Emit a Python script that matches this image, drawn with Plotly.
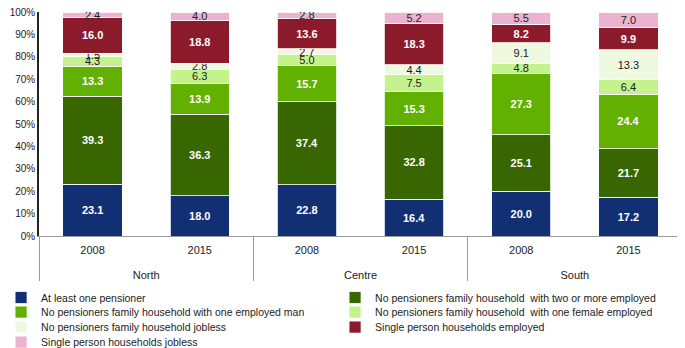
import plotly.graph_objects as go

regions = ["North", "North", "Centre", "Centre", "South", "South"]
years = ["2008", "2015", "2008", "2015", "2008", "2015"]

series_names = [
    "At least one pensioner",
    "No pensioners family household  with two or more employed",
    "No pensioners family household with one employed man",
    "No pensioners family household  with one female employed",
    "No pensioners family household jobless",
    "Single person households employed",
    "Single person households jobless",
]

at_least_one_pensioner = [23.1, 18.0, 22.8, 16.4, 20.0, 17.2]
two_or_more_employed = [39.3, 36.3, 37.4, 32.8, 25.1, 21.7]
one_employed_man = [13.3, 13.9, 15.7, 15.3, 27.3, 24.4]
one_female_employed = [4.3, 6.3, 5.0, 7.5, 4.8, 6.4]
family_jobless = [1.5, 2.8, 2.7, 4.4, 9.1, 13.3]
single_employed = [16.0, 18.8, 13.6, 18.3, 8.2, 9.9]
single_jobless = [2.4, 4.0, 2.8, 5.2, 5.5, 7.0]

series_values = [
    at_least_one_pensioner,
    two_or_more_employed,
    one_employed_man,
    one_female_employed,
    family_jobless,
    single_employed,
    single_jobless,
]

colors = ["#122F74", "#386600", "#62B000", "#C4F38D", "#EEF9E0", "#8B1A2B", "#EBB3CF"]
text_colors = ["white", "white", "white", "#222222", "#222222", "white", "#222222"]
text_weights = ["bold", "bold", "bold", "normal", "normal", "bold", "normal"]

FONT = "Liberation Sans"

# region labels pushed one line lower on the axis (display only)
region_labels = ["<br>" + r for r in regions]

# legend rows (two entries per row), one legend per row for tighter spacing
legend_ids = ["legend", "legend", "legend2", "legend2", "legend3", "legend3", "legend4"]

fig = go.Figure()
for name, vals, col, tcol, tw, lg in zip(series_names, series_values, colors, text_colors, text_weights, legend_ids):
    fig.add_trace(go.Bar(
        x=[region_labels, years],
        y=vals,
        name=name,
        legend=lg,
        marker=dict(color=col, line=dict(color="white", width=0.8)),
        text=[f"{v:.1f}" for v in vals],
        texttemplate="%{text}",
        textposition="inside",
        insidetextanchor="middle",
        textangle=0,
        constraintext="none",
        textfont=dict(color=tcol, size=11, family=FONT, weight=tw),
    ))

def legend_row(ypos):
    return dict(
        orientation="h",
        x=-0.059,
        xanchor="left",
        y=ypos,
        yanchor="top",
        entrywidth=289,
        traceorder="normal",
        font=dict(size=10.5, family=FONT, color="#222222"),
        itemwidth=30,
        tracegroupgap=0,
        bgcolor="rgba(0,0,0,0)",
    )

fig.update_layout(
    barmode="stack",
    barnorm="percent",
    bargap=0.445,
    width=677,
    height=340,
    margin=dict(l=31, r=3, t=4, b=112, autoexpand=False),
    paper_bgcolor="white",
    plot_bgcolor="white",
    font=dict(family=FONT, size=11, color="#222222"),
    uniformtext=dict(minsize=11, mode="show"),
    showlegend=True,
    legend=legend_row(-0.210),
    legend2=legend_row(-0.275),
    legend3=legend_row(-0.342),
    legend4=legend_row(-0.409),
    xaxis=dict(
        type="multicategory",
        showline=True,
        linecolor="#9a9a9a",
        linewidth=1,
        showdividers=True,
        dividercolor="#9a9a9a",
        dividerwidth=1,
        tickfont=dict(size=11, family=FONT, color="#222222"),
        showgrid=False,
        ticks="",
        ticklabelstandoff=4,
        automargin=False,
    ),
    yaxis=dict(
        range=[0, 100],
        dtick=10,
        ticksuffix="%",
        showgrid=False,
        showline=True,
        linecolor="#222222",
        linewidth=1.5,
        ticks="",
        tickfont=dict(size=10, family=FONT, color="#222222"),
        zeroline=False,
        automargin=False,
        ticklabeloverflow="allow",
    ),
)

fig.write_html("out.html")
